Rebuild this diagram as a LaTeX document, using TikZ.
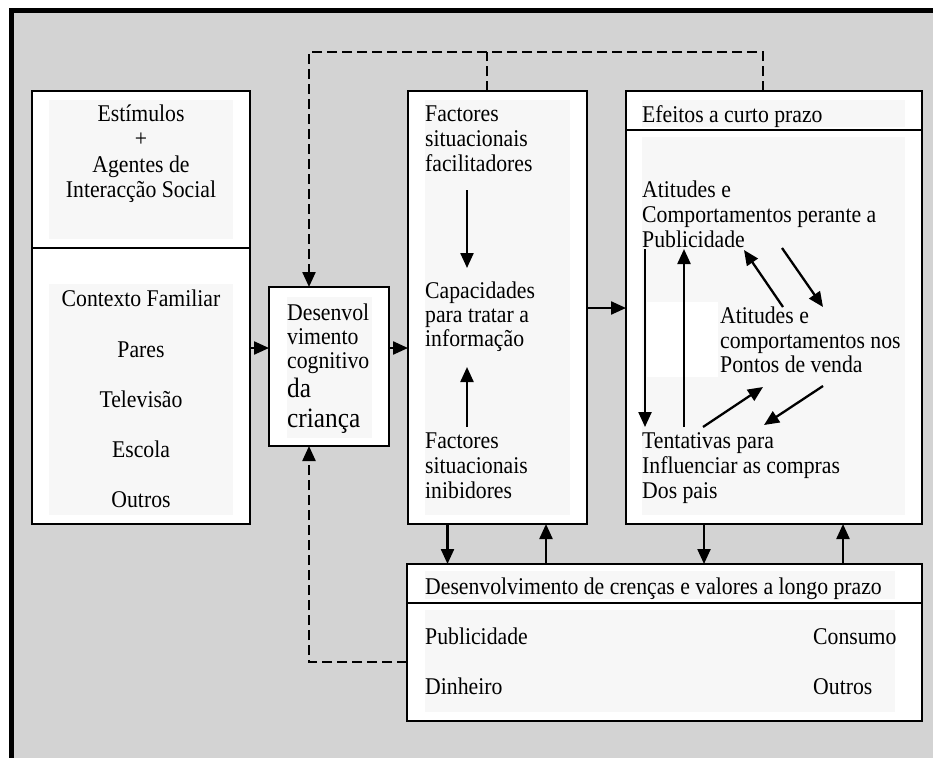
\documentclass[tikz,border=0pt]{standalone}
\usepackage{fontspec}
\setmainfont{Liberation Serif}[FakeStretch=0.905]
\usetikzlibrary{arrows.meta}
\definecolor{bg}{RGB}{211,211,211}
\definecolor{innerfill}{RGB}{247,247,247}
\begin{document}
\begin{tikzpicture}[x=1pt,y=-1pt,
  box/.style={draw=black, line width=2.8pt, fill=white, inner sep=0pt, outer sep=0pt, anchor=north west},
  divider/.style={line width=2.8pt},
  tip/.style={-{Triangle[length=15pt,width=13pt]}},
  arr/.style={line width=2.3pt, tip},
  dsh/.style={line width=2.3pt, dash pattern=on 10pt off 5pt},
  txt/.style={inner sep=0pt, anchor=base west, font=\fontsize{24}{25}\selectfont},
  ctxt/.style={txt, anchor=base},
  bigtxt/.style={txt, font=\fontsize{28}{30}\selectfont}]
\useasboundingbox (0,0) rectangle (933,758);
% frame
\fill[black] (9,8) rectangle (933,758);
\fill[bg] (13.5,13) rectangle (933,758);
% boxes
\node[box, minimum width=218pt, minimum height=433pt] (L) at (32,91) {};
\node[box, minimum width=120pt, minimum height=159pt] (D) at (269,287) {};
\node[box, minimum width=179pt, minimum height=433pt] (F) at (408,91) {};
\node[box, minimum width=296pt, minimum height=433pt] (E) at (626,91) {};
\node[box, minimum width=515pt, minimum height=157pt] (LT) at (407,564) {};
% subtle inner fills
\fill[innerfill] (49,100) rectangle (233,239);
\fill[innerfill] (49,284) rectangle (233,515);
\fill[innerfill] (287,297) rectangle (372,438);
\fill[innerfill] (425,100) rectangle (570,515);
\fill[innerfill] (642,100) rectangle (905,127);
\fill[innerfill] (642,137) rectangle (905,515);
\fill[white] (647,302) rectangle (718,377);
\fill[innerfill] (425,571) rectangle (895,599);
\fill[innerfill] (425,610) rectangle (895,712);
% dividers
\draw[divider] (L.west |- 0,248) -- (L.east |- 0,248);
\draw[divider] (E.west |- 0,130) -- (E.east |- 0,130);
\draw[divider] (LT.west |- 0,603) -- (LT.east |- 0,603);
% left box texts
\node[ctxt] (l1) at (141,121) {Estímulos};
\node[ctxt] (l2) at (141,146.5) {+};
\node[ctxt] (l3) at (141,172) {Agentes de};
\node[ctxt] (l4) at (141,197) {Interacção Social};
\node[ctxt] (l5) at (141,306) {Contexto Familiar};
\node[ctxt] (l6) at (141,357) {Pares};
\node[ctxt] (l7) at (141,407) {Televisão};
\node[ctxt] (l8) at (141,457) {Escola};
\node[ctxt] (l9) at (141,507) {Outros};
% desenvolvimento cognitivo
\node[txt] (d1) at (287,320) {Desenvol};
\node[txt] (d2) at (287,344) {vimento};
\node[txt] (d3) at (287,368) {cognitivo};
\node[bigtxt] (d4) at (287,397) {da};
\node[bigtxt] (d5) at (287,427) {criança};
% factores
\node[txt] (f1) at (425,121) {Factores};
\node[txt] (f2) at (425,146) {situacionais};
\node[txt] (f3) at (425,171) {facilitadores};
\node[txt] (c1) at (425,298) {Capacidades};
\node[txt] (c2) at (425,322) {para tratar a};
\node[txt] (c3) at (425,346) {informação};
\node[txt] (g1) at (425,448) {Factores};
\node[txt] (g2) at (425,473) {situacionais};
\node[txt] (g3) at (425,498) {inibidores};
% efeitos
\node[txt] (e0) at (642,122) {Efeitos a curto prazo};
\node[txt] (a1) at (642,197) {Atitudes e};
\node[txt] (a2) at (642,222) {Comportamentos perante a};
\node[txt] (a3) at (642,247) {Publicidade};
\node[txt] (b1) at (720,323) {Atitudes e};
\node[txt] (b2) at (720,348) {comportamentos nos};
\node[txt] (b3) at (720,372) {Pontos de venda};
\node[txt] (t1) at (642,448) {Tentativas para};
\node[txt] (t2) at (642,473) {Influenciar as compras};
\node[txt] (t3) at (642,498) {Dos pais};
% long term
\node[txt] (p0) at (425,594) {Desenvolvimento de crenças e valores a longo prazo};
\node[txt] (p1) at (425,644) {Publicidade};
\node[txt] (p2) at (425,694) {Dinheiro};
\node[txt] (p3) at (813,644) {Consumo};
\node[txt] (p4) at (813,694) {Outros};
% main arrows
\draw[arr] (L.east |- 0,348) -- (D.west |- 0,348);
\draw[arr] (D.east |- 0,348) -- (F.west |- 0,348);
\draw[arr] (F.east |- 0,308) -- (E.west |- 0,308);
\draw[arr] (F.south -| 447.5,0) -- (LT.north -| 447.5,0);
\draw[arr] (LT.north -| 546,0) -- (F.south -| 546,0);
\draw[arr] (E.south -| 704,0) -- (LT.north -| 704,0);
\draw[arr] (LT.north -| 843,0) -- (E.south -| 843,0);
% arrows inside factores
\coordinate (fa1) at (467,190);
\coordinate (fa2) at (467,268);
\coordinate (fb1) at (467,427);
\coordinate (fb2) at (467,367);
\draw[arr] (fa1) -- (fa2);
\draw[arr] (fb1) -- (fb2);
% arrows inside efeitos
\coordinate (ea1) at (645,249);
\coordinate (ea2) at (645,427);
\coordinate (eb1) at (684,427);
\coordinate (eb2) at (684,249);
\draw[arr] (ea1) -- (ea2);
\draw[arr] (eb1) -- (eb2);
\coordinate (x1a) at (783,307);
\coordinate (x1b) at (744,250);
\coordinate (x2a) at (782,248);
\coordinate (x2b) at (823,307);
\coordinate (x3a) at (703,427);
\coordinate (x3b) at (763,387);
\coordinate (x4a) at (823,386);
\coordinate (x4b) at (764,425);
\draw[arr] (x1a) -- (x1b);
\draw[arr] (x2a) -- (x2b);
\draw[arr] (x3a) -- (x3b);
\draw[arr] (x4a) -- (x4b);
% dashed feedback
\coordinate (k1) at (763,52);
\coordinate (k2) at (309,52);
\coordinate (k3) at (487,52);
\coordinate (k4) at (309,662);
\draw[dsh, tip] (E.north -| k1) -- (k1) -- (k2) -- (D.north -| k2);
\draw[dsh] (F.north -| k3) -- (k3);
\draw[dsh, tip] (LT.west |- k4) -- (k4) -- (D.south -| k4);
\end{tikzpicture}
\end{document}
